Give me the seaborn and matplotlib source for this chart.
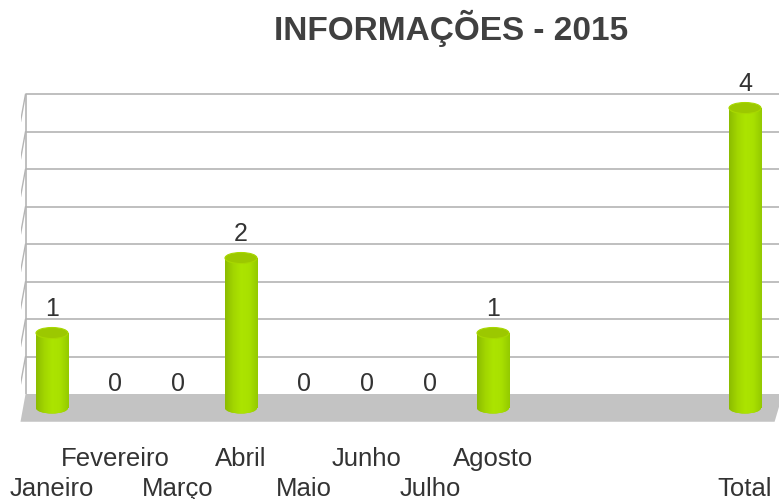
import numpy as np
import pandas as pd
import seaborn as sns
import matplotlib.pyplot as plt
from matplotlib.patches import Ellipse, Polygon
from matplotlib.colors import LinearSegmentedColormap

# dados do gráfico
meses = ["Janeiro", "Fevereiro", "Março", "Abril", "Maio", "Junho", "Julho",
         "Agosto", "", "", "", "Total"]
valores = [1, 0, 0, 2, 0, 0, 0, 1, np.nan, np.nan, np.nan, 4]
titulo = "INFORMAÇÕES - 2015"
grade = [0.5, 1.0, 1.5, 2.0, 2.5, 3.0, 3.5, 4.0]

df = pd.DataFrame({"pos": range(len(meses)), "valor": valores})

sns.set_style("white")
plt.rcParams["font.family"] = ["Liberation Sans", "DejaVu Sans"]

fig = plt.figure(figsize=(7.79, 4.99), dpi=100)
ax = fig.add_axes([20.5 / 779, 69 / 499, 756 / 779, 350 / 499])

base = -0.187      # fundo do cilindro (efeito 3D)
elip_h = 0.147
largura = 0.508
prof = 0.37        # profundidade do piso

# parede de fundo e piso
ax.hlines(grade, -0.42, 11.62, color="#b4b4b4", lw=1.2, zorder=0, clip_on=False)
ax.vlines(-0.42, 0, grade[-1], color="#b4b4b4", lw=1.2, zorder=0)
for g in grade:
    ax.plot([-0.42, -0.5], [g, g - prof], color="#b4b4b4", lw=1.0, zorder=0)
piso = Polygon([(-0.5, -prof), (11.47, -prof), (11.6, 0), (-0.42, 0)],
               closed=True, facecolor="#c3c3c3", edgecolor="none", zorder=1,
               clip_on=False)
ax.add_patch(piso)

sns.barplot(data=df, x="pos", y="valor", order=list(range(len(meses))),
            color="#a6dc00", width=largura, ax=ax, zorder=2, errorbar=None)

cmap = LinearSegmentedColormap.from_list(
    "cil", ["#8cbc00", "#a2d600", "#ace400", "#a8e000", "#94ca00"])
grad = np.linspace(0, 1, 64).reshape(1, -1)

for p in list(ax.patches):
    if p is piso:
        continue
    h = p.get_height()
    if np.isnan(h) or h <= 0:
        p.set_visible(False)
        continue
    x0 = p.get_x()
    xc = x0 + p.get_width() / 2
    p.set_y(base)
    p.set_edgecolor("none")
    topo = base + h
    im = ax.imshow(grad, cmap=cmap, aspect="auto", zorder=3,
                   extent=[x0, x0 + p.get_width(), base - elip_h, topo])
    im.set_clip_path(p)
    fundo = Ellipse((xc, base), largura, elip_h, facecolor="#9ed200",
                    edgecolor="none", zorder=2)
    ax.add_patch(fundo)
    im2 = ax.imshow(grad, cmap=cmap, aspect="auto", zorder=3,
                    extent=[x0, x0 + p.get_width(), base - elip_h, topo])
    im2.set_clip_path(fundo)
    ax.add_patch(Ellipse((xc, topo), largura, elip_h, facecolor="#9cc800",
                         edgecolor="#a8d800", lw=0.8, zorder=4))

# rótulos de valor
for i, v in enumerate(valores):
    if np.isnan(v):
        continue
    ax.text(i, base + v + 0.23, f"{v:g}", ha="center", va="baseline",
            fontsize=18, color="#333333", zorder=5)

ax.set_xlim(-0.5, 11.5)
ax.set_ylim(-0.48, 4.1867)
ax.set_xticks(range(len(meses)))
ax.set_xticklabels(meses, fontsize=18.5, color="#333333")
ax.tick_params(axis="x", length=0, pad=12.5)
# rótulos não vazios alternados em duas linhas
k = 0
for m, t in zip(meses, ax.xaxis.get_major_ticks()):
    if not m:
        continue
    if k % 2 == 0:
        t.set_pad(33.5)
    k += 1
ax.set_yticks([])
ax.set_xlabel("")
ax.set_ylabel("")
for s in ax.spines.values():
    s.set_visible(False)
ax.patch.set_alpha(0)

fig.text(451 / 779, (499 - 40) / 499, titulo, ha="center", va="baseline",
         fontsize=24, fontweight="bold", color="#404040")

fig.savefig("out.png", dpi=100)
